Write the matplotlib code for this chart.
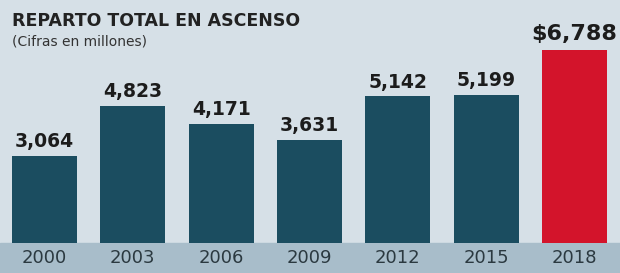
import matplotlib.pyplot as plt

# datos
years = ['2000', '2003', '2006', '2009', '2012', '2015', '2018']
values = [3064, 4823, 4171, 3631, 5142, 5199, 6788]
labels = ['3,064', '4,823', '4,171', '3,631', '5,142', '5,199', '$6,788']

BG = '#d6e0e7'
BAND = '#a8bdca'
TEAL = '#1b4d60'
RED = '#d3142b'
TXT = '#1c1c1c'

fig = plt.figure(figsize=(6.2, 2.73), dpi=100, facecolor=BG)
ax = fig.add_axes([0, 0, 1, 1])
ax.set_facecolor(BG)
ax.set_xlim(-0.504, 6.515)
ax.set_ylim(-1053, 8526)
ax.axis('off')

# franja inferior
ax.axhspan(-1053, 0, color=BAND, zorder=0)

x = range(len(years))
colors = [TEAL] * (len(years) - 1) + [RED]
ax.bar(x, values, width=0.735, color=colors, zorder=2)

for i, (v, lab) in enumerate(zip(values, labels)):
    if i == len(values) - 1:
        ax.text(i, v + 200, lab, ha='center', va='bottom', fontsize=16,
                fontweight='bold', color=TXT)
    else:
        ax.text(i, v + 170, lab, ha='center', va='bottom', fontsize=13.5,
                fontweight='bold', color=TXT)
    ax.text(i, -520, years[i], ha='center', va='center', fontsize=13,
            color='#2b3940')

fig.text(0.019, 0.955, 'REPARTO TOTAL EN ASCENSO', ha='left', va='top',
         fontsize=12.5, fontweight='bold', color='#222222')
fig.text(0.019, 0.875, '(Cifras en millones)', ha='left', va='top',
         fontsize=10, color='#333333')

fig.savefig('out.png', dpi=100, facecolor=BG)
